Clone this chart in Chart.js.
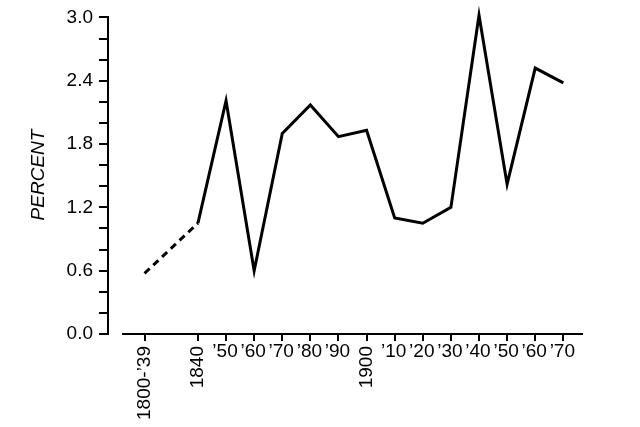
<!DOCTYPE html>
<html>
<head>
<meta charset="utf-8">
<script src="https://cdn.jsdelivr.net/npm/chart.js@4/dist/chart.umd.min.js"></script>
<style>
  html, body { margin: 0; padding: 0; background: #fff; }
  canvas { display: block; }
</style>
</head>
<body>
<canvas id="chart" width="640" height="427"></canvas>
<script>
// early estimate (1800-'39, drawn dashed) joined to the 1840 value
const earlyYears = [1821, 1840];
const earlyPercent = [0.575, 1.05];

// decade values
const years = [1840, 1850, 1860, 1870, 1880, 1890, 1900, 1910, 1920, 1930, 1940, 1950, 1960, 1970];
const percent = [1.05, 2.21, 0.60, 1.90, 2.17, 1.87, 1.93, 1.10, 1.05, 1.20, 3.02, 1.42, 2.52, 2.38];

// x tick positions and their labels
const tickYears = [1821, 1840, 1850, 1860, 1870, 1880, 1890, 1900, 1910, 1920, 1930, 1940, 1950, 1960, 1970];
const tickLabels = ["1800-\u201939", "1840", "\u201950", "\u201960", "\u201970", "\u201980", "\u201990",
                    "1900", "\u201910", "\u201920", "\u201930", "\u201940", "\u201950", "\u201960", "\u201970"];

// y tick marks every 0.2, labelled every 0.6
const yTicks = [0, 0.2, 0.4, 0.6, 0.8, 1.0, 1.2, 1.4, 1.6, 1.8, 2.0, 2.2, 2.4, 2.6, 2.8, 3.0];
const yLabelled = [0, 0.6, 1.2, 1.8, 2.4, 3.0];

const FONT = '"Liberation Sans", Arial, sans-serif';

// draws the x axis line (with the gap at the origin), the x labels and the y title
const decorations = {
  id: 'decorations',
  afterDraw(chart) {
    const ctx = chart.ctx;
    const xs = chart.scales.x;
    const area = chart.chartArea;
    ctx.save();
    ctx.strokeStyle = '#000';
    ctx.lineWidth = 2;
    ctx.beginPath();
    ctx.moveTo(xs.getPixelForValue(1813), area.bottom);
    ctx.lineTo(area.right, area.bottom);
    ctx.stroke();

    ctx.fillStyle = '#000';
    ctx.font = '19px ' + FONT;
    tickYears.forEach((yr, i) => {
      const x = xs.getPixelForValue(yr);
      const label = tickLabels[i];
      if (label.length > 3) {
        ctx.save();
        ctx.translate(x, area.bottom + 12);
        ctx.rotate(-Math.PI / 2);
        ctx.textAlign = 'right';
        ctx.textBaseline = 'middle';
        ctx.fillText(label, 0, 0);
        ctx.restore();
      } else {
        ctx.textAlign = 'center';
        ctx.textBaseline = 'middle';
        ctx.fillText(label, x - 1, area.bottom + 18);
      }
    });

    ctx.font = 'italic 19px ' + FONT;
    ctx.translate(39, 175);
    ctx.rotate(-Math.PI / 2);
    ctx.textAlign = 'center';
    ctx.textBaseline = 'middle';
    ctx.fillText('PERCENT', 0, 0);
    ctx.restore();
  }
};

new Chart(document.getElementById('chart'), {
  type: 'line',
  data: {
    datasets: [
      {
        data: earlyYears.map((x, i) => ({ x: x, y: earlyPercent[i] })),
        borderColor: '#000',
        borderWidth: 3,
        borderDash: [7, 5],
        pointRadius: 0,
        tension: 0,
        clip: false
      },
      {
        data: years.map((x, i) => ({ x: x, y: percent[i] })),
        borderColor: '#000',
        borderWidth: 3,
        pointRadius: 0,
        tension: 0,
        clip: false
      }
    ]
  },
  options: {
    responsive: false,
    animation: false,
    devicePixelRatio: 1,
    layout: { padding: { top: 16, right: 57, left: 0, bottom: 0 } },
    plugins: { legend: { display: false }, tooltip: { enabled: false } },
    scales: {
      x: {
        type: 'linear',
        min: 1808,
        max: 1977,
        afterBuildTicks: (scale) => { scale.ticks = tickYears.map(v => ({ value: v })); },
        afterFit: (scale) => { scale.height = 93; },
        border: { display: false },
        grid: { drawOnChartArea: false, drawTicks: true, tickLength: 7, color: '#000', lineWidth: 2 },
        ticks: { display: false }
      },
      y: {
        min: 0,
        max: 3.0,
        afterBuildTicks: (scale) => { scale.ticks = yTicks.map(v => ({ value: v })); },
        afterFit: (scale) => { scale.width = 108; },
        border: { display: true, color: '#000', width: 2 },
        grid: { drawOnChartArea: false, drawTicks: true, tickLength: 9, color: '#000', lineWidth: 2 },
        ticks: {
          autoSkip: false,
          padding: 6,
          color: '#000',
          font: { family: FONT, size: 19 },
          callback: (v) => (yLabelled.some(l => Math.abs(l - v) < 1e-6) ? v.toFixed(1) : '')
        }
      }
    }
  },
  plugins: [decorations]
});
</script>
</body>
</html>
